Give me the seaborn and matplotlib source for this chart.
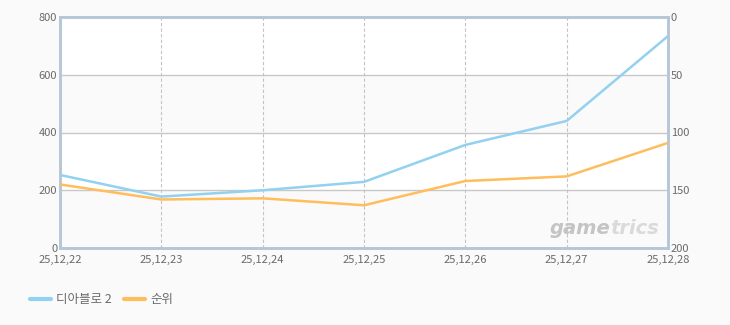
import matplotlib
matplotlib.use("Agg")
import matplotlib.pyplot as plt
import seaborn as sns
import pandas as pd
from matplotlib.lines import Line2D

dates = ["25,12,22", "25,12,23", "25,12,24", "25,12,25", "25,12,26", "25,12,27", "25,12,28"]
diablo2 = [253, 178, 200, 229, 357, 440, 734]
rank = [145, 158, 157, 163, 142, 138, 109]

sns.set_theme(style="white")
plt.rcParams['font.family'] = ['Noto Sans CJK KR', 'DejaVu Sans']

BG = "#fafafa"
SPINE = "#b4c6d8"
TXT = "#6a6a6a"
BLUE = "#92d1f0"
ORANGE = "#ffbd5c"

fig = plt.figure(figsize=(7.3, 3.25), dpi=100, facecolor=BG)
ax = fig.add_axes([60/730, 1-248/325, 608/730, 231/325])
ax.set_facecolor("white")

df = pd.DataFrame({"x": list(range(len(dates))), "d2": diablo2, "rank": rank})

for lo, hi, c in [(0, 200, BG), (200, 400, "white"), (400, 600, BG), (600, 800, "white")]:
    ax.axhspan(lo, hi, color=c, zorder=0, lw=0)

sns.lineplot(data=df, x="x", y="d2", ax=ax, color=BLUE, lw=1.8, zorder=3)
ax.set_ylim(0, 800)
ax.set_xlim(0, len(dates) - 1)
ax.set_yticks([0, 200, 400, 600, 800])
ax.set_xticks(range(len(dates)))
ax.set_xticklabels(dates)
ax.set_xlabel("")
ax.set_ylabel("")
for y in [200, 400, 600]:
    ax.axhline(y, color="#c8c8c8", lw=1, zorder=1)
for i in range(1, len(dates) - 1):
    ax.axvline(i, color="#c4c4c4", lw=0.8, ls=(0, (3, 2)), zorder=1)

ax2 = ax.twinx()
sns.lineplot(data=df, x="x", y="rank", ax=ax2, color=ORANGE, lw=1.8, zorder=3)
ax2.set_ylim(200, 0)
ax2.set_yticks([0, 50, 100, 150, 200])
ax2.set_ylabel("")
ax2.set_xlim(0, len(dates) - 1)

for a in (ax, ax2):
    for s in a.spines.values():
        s.set_color(SPINE)
        s.set_linewidth(1.8)
    a.tick_params(axis="both", length=0, labelsize=8, labelcolor=TXT, pad=2)
ax.tick_params(axis="x", pad=5)
for lbl in ax.get_yticklabels() + ax2.get_yticklabels():
    lbl.set_va("center_baseline")

# watermark
fig.text(0.836, 0.298, "game", fontsize=14, fontweight="bold", style="italic",
         color="#c4c4c4", ha="right", va="center", family="DejaVu Sans")
fig.text(0.836, 0.298, "trics", fontsize=14, fontweight="bold", style="italic",
         color="#dadada", ha="left", va="center", family="DejaVu Sans")

handles = [Line2D([], [], color=BLUE, lw=3), Line2D([], [], color=ORANGE, lw=3)]
fig.legend(handles, ["디아블로 2", "순위"], loc="center left", bbox_to_anchor=(0.025, 0.077),
           ncol=2, frameon=False, fontsize=9, handlelength=1.7, handletextpad=0.4,
           columnspacing=1.0, labelcolor=TXT)

fig.savefig("out.png", dpi=100, facecolor=BG)
